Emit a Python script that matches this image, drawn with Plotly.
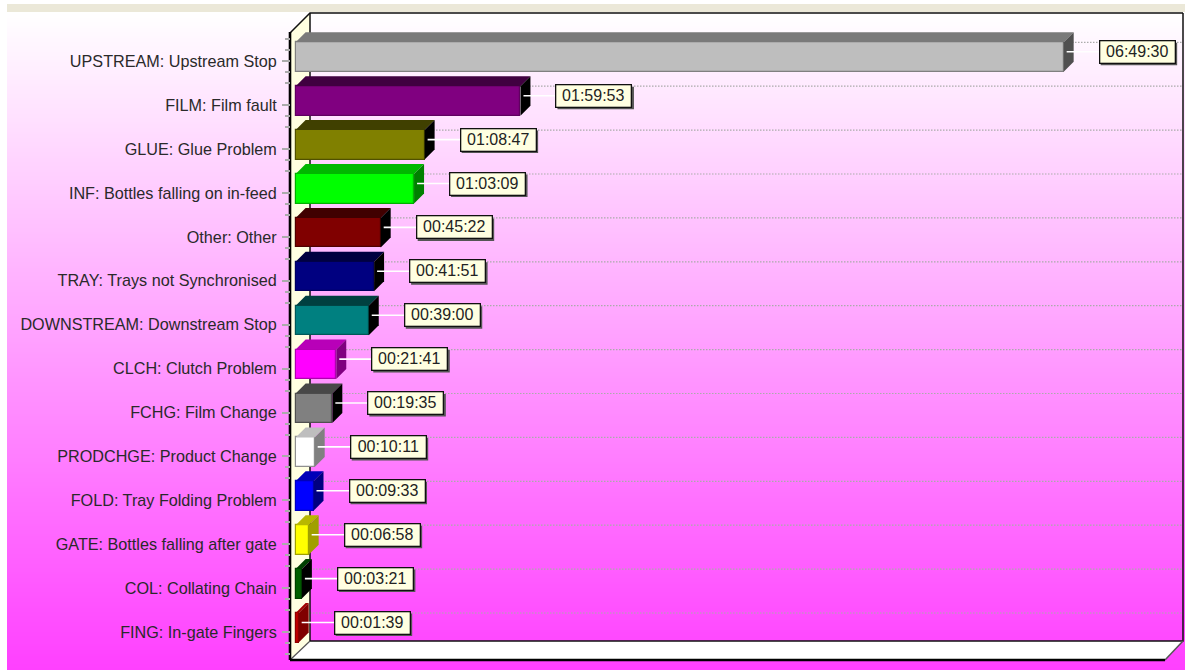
import plotly.graph_objects as go

# ---- data ----
categories = ["UPSTREAM: Upstream Stop", "FILM: Film fault", "GLUE: Glue Problem",
              "INF: Bottles falling on in-feed", "Other: Other", "TRAY: Trays not Synchronised",
              "DOWNSTREAM: Downstream Stop", "CLCH: Clutch Problem", "FCHG: Film Change",
              "PRODCHGE: Product Change", "FOLD: Tray Folding Problem",
              "GATE: Bottles falling after gate", "COL: Collating Chain", "FING: In-gate Fingers"]
durations = ["06:49:30", "01:59:53", "01:08:47", "01:03:09", "00:45:22", "00:41:51", "00:39:00",
             "00:21:41", "00:19:35", "00:10:11", "00:09:33", "00:06:58", "00:03:21", "00:01:39"]
front_colors = ["#BEBEBE", "#800080", "#808000", "#00FF00", "#800000", "#000080", "#008080",
                "#FF00FF", "#808080", "#FFFFFF", "#0000FF", "#FFFF00", "#006000", "#C00000"]
top_colors = ["#7A7A7A", "#400040", "#404000", "#00B800", "#400000", "#000040", "#004040",
              "#B800B8", "#484848", "#BEBEBE", "#0000B8", "#B8B800", "#004000", "#A00000"]
side_colors = ["#505050", "#000000", "#000000", "#008000", "#000000", "#000000", "#000000",
               "#800080", "#000000", "#808080", "#000080", "#A0A000", "#000000", "#800000"]
edge_colors = ["#808080", "#600060", "#505000", "#00B000", "#500000", "#000060", "#005858",
               "#B000B0", "#505050", "#909090", "#0000C0", "#A0A000", "#004000", "#900000"]

seconds = [sum(int(p) * m for p, m in zip(d.split(":"), (3600, 60, 1))) for d in durations]
rows = list(range(len(categories)))

# ---- scales ----
W, H = 1185, 671
PX0, PY0 = 295.6, 61.3    # pixel of zero seconds / first row tick
SX, SY = 0.03126, 43.9    # px per second / px per row
X = lambda px: (px - PX0) / SX
Y = lambda py: (py - PY0) / SY
DX, DY = 10 / SX, 10 / SY
TOP, BOT = -19 / SY, 10.5 / SY
LABEL_DY = -9.5 / SY

fig = go.Figure()

# ---- background gradient ----
TOP_PX, BOTTOM_PX = 12, 670
n = (BOTTOM_PX - TOP_PX) // 2
edges = [Y(TOP_PX + (BOTTOM_PX - TOP_PX) * k / n) for k in range(n + 1)]
fig.add_trace(go.Heatmap(x=[X(7), X(W)], y=edges, z=[[k / (n - 1)] for k in range(n)],
                         colorscale=[[0, "#FFFFFF"], [1, "#FF40FF"]], showscale=False,
                         hoverinfo="skip", xaxis="x", yaxis="y"))

def poly(xs, ys, fill, xa="x", ya="y", line=None, width=0):
    fig.add_trace(go.Scatter(x=xs, y=ys, mode="lines", fill="toself", fillcolor=fill,
                             line=dict(color=line or fill, width=width), hoverinfo="skip",
                             showlegend=False, xaxis=xa, yaxis=ya))

def seg(xs, ys, color, width, dash="solid", xa="x", ya="y"):
    fig.add_trace(go.Scatter(x=xs, y=ys, mode="lines", line=dict(color=color, width=width, dash=dash),
                             hoverinfo="skip", showlegend=False, xaxis=xa, yaxis=ya))

# ---- walls and floor ----
poly([X(290), X(310), X(310), X(290)], [Y(33), Y(13), Y(641), Y(660)], "#FFFFE1")
poly([X(290), X(310), X(1183), X(1165)], [Y(660), Y(641), Y(641), Y(660)], "#FFFFFF")

# ---- dotted grid on the back wall ----
gx, gy = [], []
for r in rows:
    gx += [X(310), X(1183), None]
    gy += [r + TOP, r + TOP, None]
seg(gx, gy, "#ABABAB", 1.2, "1.5px,1.5px")

# ---- frame ----
seg([X(310), X(1183), X(1183)], [Y(641), Y(641), Y(13)], "#111111", 1.5)
seg([X(290), X(310), X(1183)], [Y(33), Y(13), Y(13)], "#111111", 1.5)
seg([X(310), X(310)], [Y(13), Y(641)], "#111111", 1.5)
seg([X(1183), X(1165)], [Y(641), Y(660)], "#555555", 1.5)
seg([X(290), X(310)], [Y(660), Y(641)], "#555555", 1.2)
seg([X(290), X(290)], [Y(32), Y(660)], "#000000", 2.6)
seg([X(290), X(1165)], [Y(660), Y(660)], "#000000", 2.6)

# ---- bars ----
fig.add_trace(go.Bar(y=rows, x=seconds, orientation="h", width=(BOT - TOP), offset=TOP,
                     marker=dict(color=front_colors, line=dict(color=edge_colors, width=1.2)),
                     showlegend=False, hoverinfo="skip", xaxis="x2", yaxis="y2"))
for r, s in zip(rows, seconds):
    poly([0, DX, s + DX, s, 0], [r + TOP, r + TOP - DY, r + TOP - DY, r + TOP, r + TOP],
         top_colors[r], "x2", "y2")
    poly([s, s + DX, s + DX, s, s], [r + TOP, r + TOP - DY, r + BOT - DY, r + BOT, r + TOP],
         side_colors[r], "x2", "y2")
    ly = r + LABEL_DY
    seg([s + 3 / SX, s + 36 / SX], [ly, ly], "#FFFFFF", 1.6, xa="x2", ya="y2")

# ---- value labels ----
shapes = [dict(type="rect", xref="paper", yref="paper", x0=7 / W, x1=1, y0=1 - 12 / H, y1=1 - 4 / H,
               fillcolor="#EBE8D8", line_width=0, layer="below")]
annotations = []
for r, s, d in zip(rows, seconds, durations):
    ly = r + LABEL_DY
    shapes.append(dict(type="rect", xref="x2", yref="y2", xsizemode="pixel", ysizemode="pixel",
                       xanchor=s, yanchor=ly, x0=37, x1=113.5, y0=-13.5, y1=9,
                       fillcolor="#555555", line_width=0, layer="above"))
    annotations.append(dict(xref="x2", yref="y2", x=s, y=ly, xshift=35 + 38.5, yshift=0, text=d,
                            showarrow=False, font=dict(family="Liberation Sans", size=16, color="#222222"),
                            bgcolor="#FFFFE1", bordercolor="#111111", borderwidth=1.3, borderpad=1,
                            width=72, height=19, align="center", valign="middle"))

xr = [X(0), X(W)]
yr = [Y(H), Y(0)]
fig.update_layout(
    width=W, height=H, autosize=False, margin=dict(l=0, r=0, t=0, b=0),
    paper_bgcolor="#FFFFFF", plot_bgcolor="rgba(0,0,0,0)", showlegend=False, bargap=0,
    shapes=shapes, annotations=annotations,
    xaxis=dict(domain=[0, 1], range=xr, visible=False, fixedrange=True),
    yaxis=dict(domain=[0, 1], range=yr, anchor="free", position=290 / W, showgrid=False, zeroline=False,
               showline=False, tickmode="array", tickvals=rows, ticktext=categories,
               ticks="outside", ticklen=8, tickcolor="#ABABAB", tickwidth=1.5, ticklabelstandoff=2,
               tickfont=dict(family="Liberation Sans", size=16.2, color="#2A2A2A"),
               minor=dict(tickmode="array",
                          tickvals=[r + o / SY for r in rows for o in (11, 22)] + [-11 / SY, -22 / SY],
                          ticks="outside", ticklen=5, tickcolor="#ABABAB", tickwidth=1.5),
               fixedrange=True),
    xaxis2=dict(domain=[0, 1], range=xr, overlaying="x", visible=False, fixedrange=True),
    yaxis2=dict(domain=[0, 1], range=yr, overlaying="y", visible=False, fixedrange=True),
)
fig.write_html("out.html", config=dict(displayModeBar=False),
               post_script="document.body.style.margin='0';document.documentElement.style.overflow='hidden';")
